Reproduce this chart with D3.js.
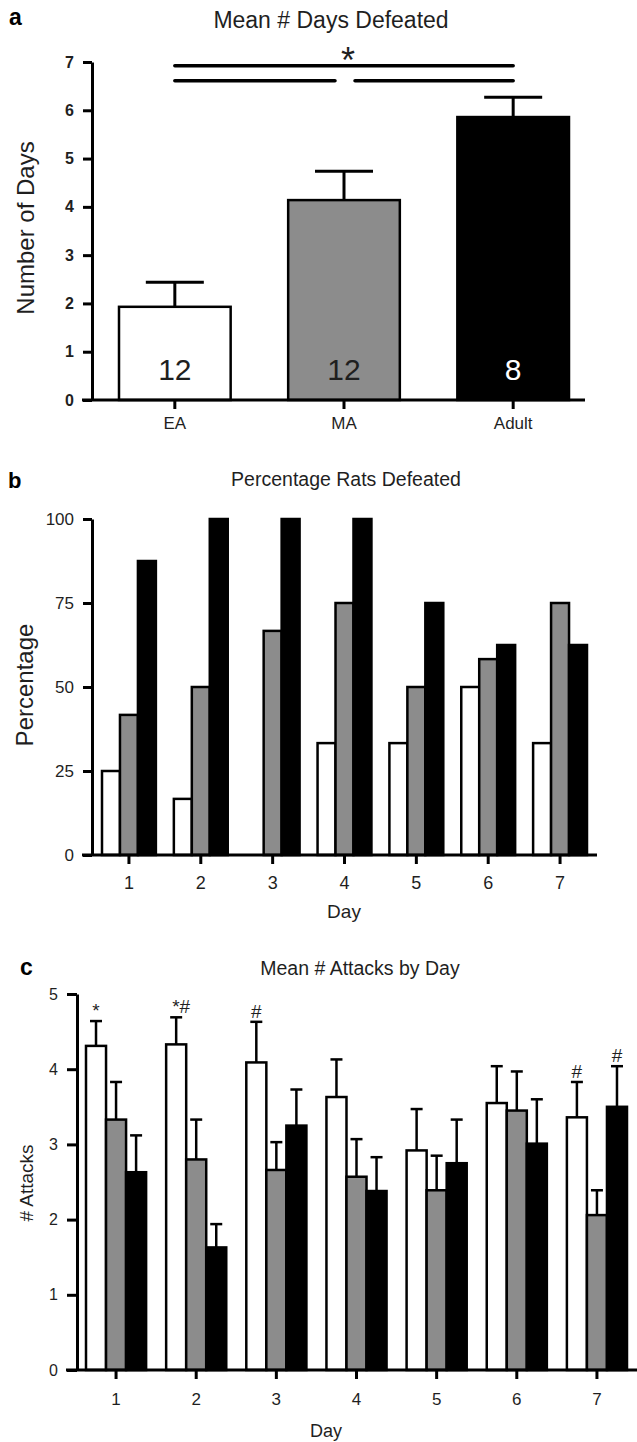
<!DOCTYPE html>
<html>
<head>
<meta charset="utf-8">
<script src="https://cdn.jsdelivr.net/npm/d3@7"></script>
<style>
  body { margin: 0; background: #fff; }
  svg { display: block; font-family: "Liberation Sans", Arial, sans-serif; }
</style>
</head>
<body>
<script>

// groups shared by all three panels
var groups = ["EA", "MA", "Adult"],
    fills = ["#fff", "#8c8c8c", "#000"];

// panel a: mean number of days defeated
var daysMean = [1.93, 4.14, 5.86],
    daysSem = [0.51, 0.60, 0.41],
    daysN = ["12", "12", "8"],
    ticksA = [0, 1, 2, 3, 4, 5, 6, 7];

// significance bars above panel a: [from group, to group, level]
var sigBars = [[0, 2, 6.92], [0, 1, 6.61], [1, 2, 6.61]];

// panel b: percentage of rats defeated per day
var days = ["1", "2", "3", "4", "5", "6", "7"],
    pctEA = [25, 16.7, 0, 33.3, 33.3, 50, 33.3],
    pctMA = [41.7, 50, 66.7, 75, 50, 58.3, 75],
    pctAdult = [87.5, 100, 100, 100, 75, 62.5, 62.5],
    ticksB = [0, 25, 50, 75, 100];

// panel c: mean number of attacks per day (+ SEM)
var atkEA = [4.31, 4.33, 4.09, 3.63, 2.92, 3.55, 3.36],
    atkEAsem = [0.33, 0.36, 0.54, 0.50, 0.55, 0.49, 0.47],
    atkMA = [3.33, 2.80, 2.66, 2.57, 2.39, 3.45, 2.06],
    atkMAsem = [0.50, 0.53, 0.37, 0.50, 0.46, 0.52, 0.33],
    atkAdult = [2.63, 1.63, 3.25, 2.38, 2.75, 3.01, 3.50],
    atkAdultSem = [0.49, 0.31, 0.48, 0.45, 0.58, 0.59, 0.54],
    markEA = ["*", "*#", "#", "", "", "", "#"],
    markMA = ["", "", "", "", "", "", ""],
    markAdult = ["", "", "", "", "", "", "#"],
    ticksC = [0, 1, 2, 3, 4, 5];

var ink = "#1f1f1f";

var svg = d3.select("body").append("svg")
    .attr("width", 637)
    .attr("height", 1442);

function yAxis(g, y, x0, ticks, size, bold, tick) {
  var ax = g.append("g")
      .attr("transform", "translate(" + x0 + ",0)")
      .call(d3.axisLeft(y).tickValues(ticks).tickFormat(d3.format("d"))
          .tickSize(tick).tickSizeOuter(0).tickPadding(9));
  ax.select(".domain").attr("stroke", "#000").attr("stroke-width", 3);
  ax.selectAll(".tick line").attr("stroke", "#000").attr("stroke-width", 3);
  ax.selectAll(".tick text")
      .attr("font-size", size)
      .attr("font-weight", bold ? "bold" : "normal")
      .attr("font-family", "\"Liberation Sans\", Arial, sans-serif")
      .attr("fill", ink);
}

function xAxis(g, x, y0, x1, x2, size, dy) {
  var ax = g.append("g")
      .attr("transform", "translate(0," + y0 + ")")
      .call(d3.axisBottom(x).tickSize(9).tickSizeOuter(0).tickPadding(dy));
  ax.select(".domain").remove();
  ax.selectAll(".tick line").attr("stroke", "#000").attr("stroke-width", 3);
  ax.selectAll(".tick text")
      .attr("font-size", size)
      .attr("font-family", "\"Liberation Sans\", Arial, sans-serif")
      .attr("fill", ink);
  g.append("line")
      .attr("x1", x1).attr("x2", x2)
      .attr("y1", y0).attr("y2", y0)
      .attr("stroke", "#000").attr("stroke-width", 3);
}

function label(g, text, x, y, size, opts) {
  opts = opts || {};
  var t = g.append("text")
      .attr("x", x).attr("y", y)
      .attr("font-size", size)
      .attr("fill", opts.fill || ink)
      .attr("font-weight", opts.bold ? "bold" : "normal")
      .attr("text-anchor", opts.anchor || "middle")
      .text(text);
  if (opts.rotate) t.attr("transform", "rotate(-90," + x + "," + y + ")");
  return t;
}

// ---------------- panel a ----------------
var ga = svg.append("g");

var xA = d3.scaleBand().domain(groups).range([119, 569]).paddingInner(0.34),
    yA = d3.scaleLinear().domain([0, 7]).range([400, 62]);

label(ga, "a", 9, 25, 23, {bold: true, anchor: "start", fill: "#000"});
label(ga, "Mean # Days Defeated", 331, 28, 23);
label(ga, "Number of Days", 34, 228, 24, {rotate: true});

var dataA = groups.map(function(g, i) {
  return {g: g, m: daysMean[i], e: daysSem[i], n: daysN[i], fill: fills[i]};
});

// error bars drawn first so that bars cover the lower whisker
var errA = ga.selectAll(".errA").data(dataA).enter().append("g");
errA.append("line")
    .attr("x1", function(d) { return xA(d.g) + xA.bandwidth() / 2; })
    .attr("x2", function(d) { return xA(d.g) + xA.bandwidth() / 2; })
    .attr("y1", function(d) { return yA(d.m); })
    .attr("y2", function(d) { return yA(d.m + d.e); })
    .attr("stroke", "#000").attr("stroke-width", 3);
errA.append("line")
    .attr("x1", function(d) { return xA(d.g) + xA.bandwidth() / 2 - 29; })
    .attr("x2", function(d) { return xA(d.g) + xA.bandwidth() / 2 + 29; })
    .attr("y1", function(d) { return yA(d.m + d.e); })
    .attr("y2", function(d) { return yA(d.m + d.e); })
    .attr("stroke", "#000").attr("stroke-width", 3);

ga.selectAll(".barA").data(dataA).enter().append("rect")
    .attr("x", function(d) { return xA(d.g); })
    .attr("width", xA.bandwidth())
    .attr("y", function(d) { return yA(d.m); })
    .attr("height", function(d) { return yA(0) - yA(d.m); })
    .attr("fill", function(d) { return d.fill; })
    .attr("stroke", "#000").attr("stroke-width", 2.5);

ga.selectAll(".nA").data(dataA).enter().append("text")
    .attr("x", function(d) { return xA(d.g) + xA.bandwidth() / 2; })
    .attr("y", yA(0) - 20)
    .attr("font-size", 30)
    .attr("text-anchor", "middle")
    .attr("fill", function(d) { return d.fill === "#000" ? "#fff" : ink; })
    .text(function(d) { return d.n; });

yAxis(ga, yA, 92, ticksA, 16, true, 9);
xAxis(ga, xA, yA(0), 82, 585, 17, 8);

// significance lines
function mid(i) { return xA(groups[i]) + xA.bandwidth() / 2; }
ga.selectAll(".sig").data(sigBars).enter().append("line")
    .attr("x1", function(d) { return mid(d[0]) + (d[0] === 1 ? 11 : 0); })
    .attr("x2", function(d) { return mid(d[1]) - (d[1] === 1 ? 9 : 0); })
    .attr("y1", function(d) { return yA(d[2]); })
    .attr("y2", function(d) { return yA(d[2]); })
    .attr("stroke", "#000").attr("stroke-width", 3.5)
    .attr("stroke-linecap", "round");
label(ga, "*", mid(1) + 4, 73, 36);

// ---------------- panel b ----------------
var gb = svg.append("g");

var xB = d3.scaleBand().domain(days).range([102, 587]).paddingInner(0.25),
    xBin = d3.scaleBand().domain(groups).range([0, xB.bandwidth()]),
    yB = d3.scaleLinear().domain([0, 100]).range([855, 519]);

label(gb, "b", 8, 488, 22, {bold: true, anchor: "start", fill: "#000"});
label(gb, "Percentage Rats Defeated", 346, 486, 19.5);
label(gb, "Percentage", 33, 685, 24, {rotate: true});

var pctSeries = [pctEA, pctMA, pctAdult];
var dataB = [];
days.forEach(function(day, i) {
  groups.forEach(function(g, j) {
    dataB.push({day: day, g: g, v: pctSeries[j][i], fill: fills[j]});
  });
});

gb.selectAll(".barB").data(dataB).enter().append("rect")
    .attr("x", function(d) { return xB(d.day) + xBin(d.g); })
    .attr("width", xBin.bandwidth())
    .attr("y", function(d) { return yB(d.v); })
    .attr("height", function(d) { return yB(0) - yB(d.v); })
    .attr("fill", function(d) { return d.fill; })
    .attr("stroke", "#000").attr("stroke-width", 2.5);

yAxis(gb, yB, 92, ticksB, 17, false, 9);
xAxis(gb, xB, yB(0), 82, 597, 18, 12);
label(gb, "Day", 344, 918, 19);

// ---------------- panel c ----------------
var gc = svg.append("g");

var xC = d3.scaleBand().domain(days).range([86, 627]).paddingInner(0.25),
    xCin = d3.scaleBand().domain(groups).range([0, xC.bandwidth()]),
    yC = d3.scaleLinear().domain([0, 5]).range([1370, 994]);

label(gc, "c", 20, 975, 23, {bold: true, anchor: "start", fill: "#000"});
label(gc, "Mean # Attacks by Day", 360, 975, 19.5);
label(gc, "# Attacks", 33, 1183, 19, {rotate: true});

var atkSeries = [atkEA, atkMA, atkAdult],
    semSeries = [atkEAsem, atkMAsem, atkAdultSem],
    markSeries = [markEA, markMA, markAdult];
var dataC = [];
days.forEach(function(day, i) {
  groups.forEach(function(g, j) {
    dataC.push({day: day, g: g, m: atkSeries[j][i], e: semSeries[j][i],
                mark: markSeries[j][i], fill: fills[j]});
  });
});

function cx(d) { return xC(d.day) + xCin(d.g) + xCin.bandwidth() / 2; }

var errC = gc.selectAll(".errC").data(dataC).enter().append("g");
errC.append("line")
    .attr("x1", cx).attr("x2", cx)
    .attr("y1", function(d) { return yC(d.m); })
    .attr("y2", function(d) { return yC(d.m + d.e); })
    .attr("stroke", "#000").attr("stroke-width", 2.5);
errC.append("line")
    .attr("x1", function(d) { return cx(d) - 6; })
    .attr("x2", function(d) { return cx(d) + 6; })
    .attr("y1", function(d) { return yC(d.m + d.e); })
    .attr("y2", function(d) { return yC(d.m + d.e); })
    .attr("stroke", "#000").attr("stroke-width", 2.5);

gc.selectAll(".barC").data(dataC).enter().append("rect")
    .attr("x", function(d) { return xC(d.day) + xCin(d.g); })
    .attr("width", xCin.bandwidth())
    .attr("y", function(d) { return yC(d.m); })
    .attr("height", function(d) { return yC(0) - yC(d.m); })
    .attr("fill", function(d) { return d.fill; })
    .attr("stroke", "#000").attr("stroke-width", 2.5);

gc.selectAll(".markC").data(dataC.filter(function(d) { return d.mark; }))
  .enter().append("text")
    .attr("x", function(d) { return cx(d) + (d.mark.length > 1 ? 5 : 0); })
    .attr("y", function(d) { return yC(d.m + d.e) - 4; })
    .attr("font-size", 19)
    .attr("text-anchor", "middle")
    .attr("fill", ink)
    .text(function(d) { return d.mark; });

yAxis(gc, yC, 77, ticksC, 16, false, 10);
xAxis(gc, xC, yC(0), 66, 637, 17, 14);
label(gc, "Day", 326, 1437, 18);

</script>
</body>
</html>
